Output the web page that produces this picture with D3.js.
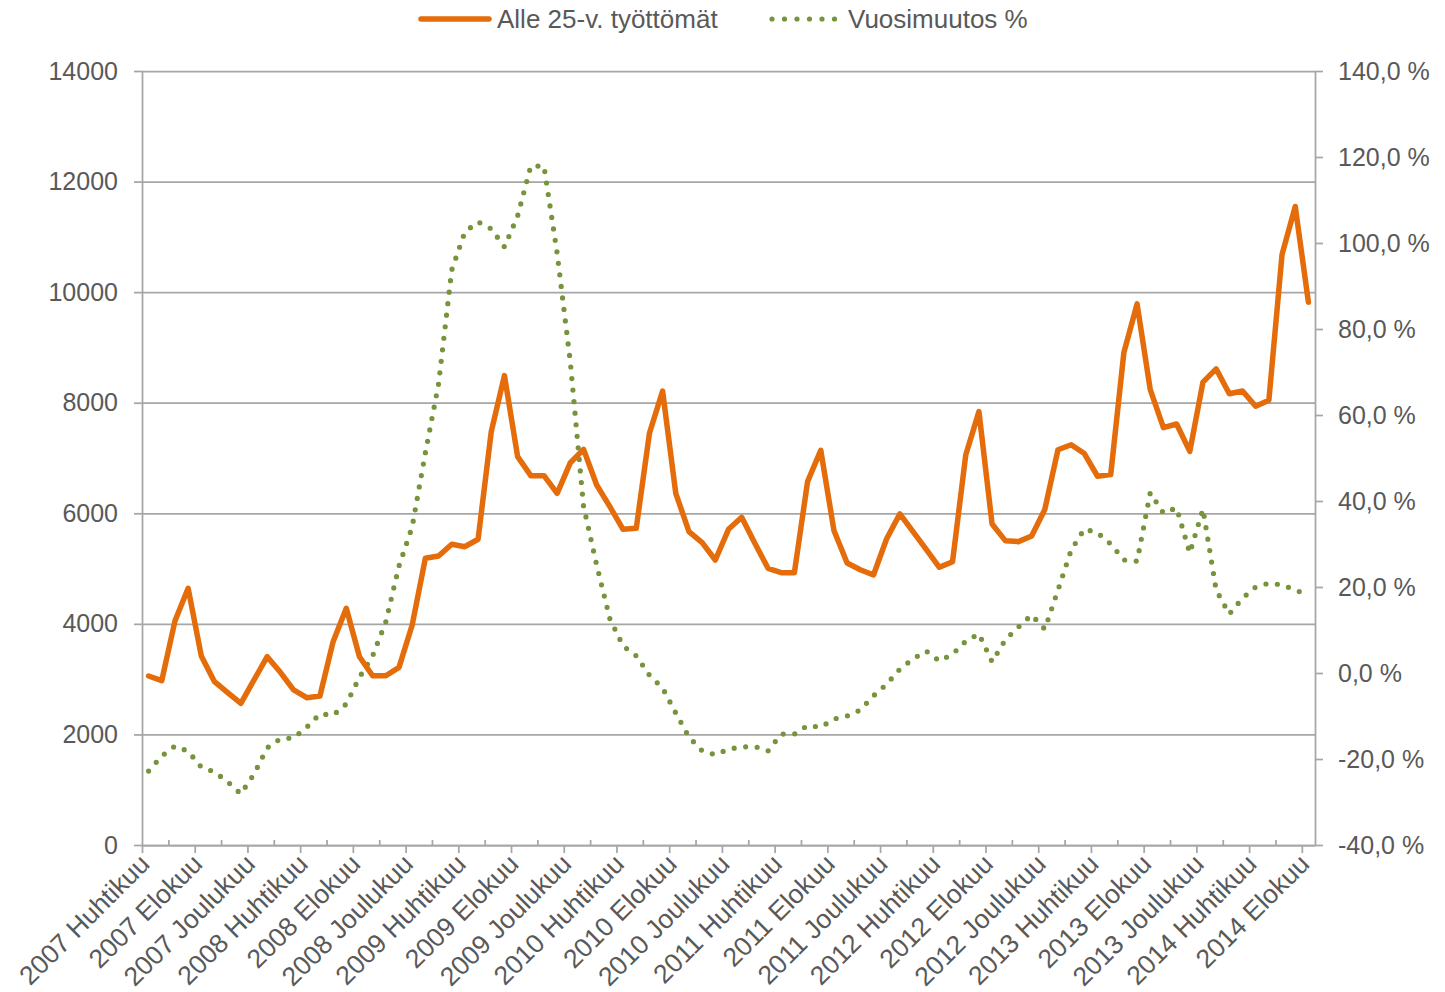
<!DOCTYPE html>
<html>
<head>
<meta charset="utf-8">
<script src="https://cdn.jsdelivr.net/npm/d3@7"></script>
<style>
  body { margin: 0; background: #fff; }
  .canvas text { font-family: 'Liberation Sans', Arial, sans-serif; fill: #595959; }
</style>
</head>
<body>
<div class="canvas"></div>
<script>
// x-axis labels, one every 4 months (Apr 2007 .. Aug 2014)
const tickLabels = [
  '2007 Huhtikuu', '2007 Elokuu', '2007 Joulukuu',
  '2008 Huhtikuu', '2008 Elokuu', '2008 Joulukuu',
  '2009 Huhtikuu', '2009 Elokuu', '2009 Joulukuu',
  '2010 Huhtikuu', '2010 Elokuu', '2010 Joulukuu',
  '2011 Huhtikuu', '2011 Elokuu', '2011 Joulukuu',
  '2012 Huhtikuu', '2012 Elokuu', '2012 Joulukuu',
  '2013 Huhtikuu', '2013 Elokuu', '2013 Joulukuu',
  '2014 Huhtikuu', '2014 Elokuu',
];
const labelEvery = 4;

// Alle 25-v. työttömät (left axis), monthly
const unemployed = [
  3057, 2972, 4052, 4643, 3419, 2954, 2755, 2563, 2985, 3406,
  3124, 2804, 2664, 2695, 3677, 4281, 3406, 3062, 3062, 3214,
  3979, 5186, 5227, 5439, 5396, 5530, 7476, 8490, 7024, 6680,
  6680, 6361, 6915, 7157, 6512, 6120, 5710, 5728, 7447, 8210,
  6361, 5670, 5468, 5155, 5710, 5927, 5457, 5005, 4925, 4925,
  6572, 7140, 5690, 5100, 4980, 4884, 5540, 5990, 5667, 5348,
  5023, 5125, 7054, 7838, 5806, 5505, 5487, 5589, 6070, 7150,
  7240, 7080, 6670, 6700, 8910, 9787, 8236, 7548, 7615, 7119,
  8373, 8612, 8163, 8212, 7937, 8044, 10680, 11550, 9818,
];

// Vuosimuutos % (right axis), monthly
const yearChange = [
  -22.8, -19.3, -17.0, -18.2, -21.9, -23.0, -25.3, -28.1, -23.5, -17.4,
  -15.3, -15.1, -12.6, -9.5, -9.8, -7.2, -1.0, 4.0, 11.9, 24.9,
  34.0, 51.2, 67.2, 93.7, 102.6, 104.9, 103.3, 99.1, 106.3, 117.9,
  117.9, 97.6, 72.3, 38.8, 25.1, 12.6, 6.3, 4.0, -0.5, -3.5,
  -9.3, -14.9, -18.1, -19.0, -17.7, -17.2, -17.1, -18.1, -14.2, -14.2,
  -12.2, -12.6, -10.7, -10.0, -8.6, -5.3, -2.6, 0.9, 3.3, 5.1,
  2.8, 4.4, 7.4, 9.1, 2.6, 7.7, 10.7, 13.5, 10.2, 19.3,
  28.6, 33.5, 32.6, 30.0, 26.3, 26.0, 41.9, 37.2, 38.4, 27.9,
  38.1, 19.3, 13.7, 17.4, 20.0, 20.9, 20.5, 19.3, 18.1,
];

const leftTicks = [0, 2000, 4000, 6000, 8000, 10000, 12000, 14000];
const rightTicks = [-40, -20, 0, 20, 40, 60, 80, 100, 120, 140];

const dims = {
  width: 1445,
  height: 992,
  left: 142,
  right: 1315,
  top: 71,
  bottom: 845,
  fontSize: '25px',
  labelSize: '26.5px',
};

const orange = '#e46c0a';
const green = '#77933c';
const gridColor = '#a6a6a6';

const svg = d3
  .select('.canvas')
  .append('svg')
  .attr('width', dims.width)
  .attr('height', dims.height);

// scales
const n = unemployed.length;
const x = d3.scaleBand().domain(d3.range(n)).range([dims.left, dims.right]).padding(0);
const xEdge = d3.scaleLinear().domain([0, n]).range([dims.left, dims.right]);
const cx = (i) => x(i) + x.bandwidth() / 2;

const yL = d3.scaleLinear().domain([0, 14000]).range([dims.bottom, dims.top]);
const yR = d3.scaleLinear().domain([-40, 140]).range([dims.bottom, dims.top]);

// gridlines
const grid = svg
  .append('g')
  .attr('transform', `translate(${dims.left}, 0)`)
  .call(d3.axisLeft(yL).tickValues(leftTicks).tickSize(-(dims.right - dims.left)).tickFormat(''));
grid.select('.domain').remove();
grid.selectAll('line').attr('stroke', gridColor).attr('stroke-width', 1.75);

// left axis
const yAxisL = svg
  .append('g')
  .attr('transform', `translate(${dims.left}, 0)`)
  .call(d3.axisLeft(yL).tickValues(leftTicks).tickSize(8).tickPadding(16).tickSizeOuter(0).tickFormat(d3.format('d')));

// right axis
const yAxisR = svg
  .append('g')
  .attr('transform', `translate(${dims.right}, 0)`)
  .call(
    d3
      .axisRight(yR)
      .tickValues(rightTicks)
      .tickSize(8)
      .tickPadding(15)
      .tickSizeOuter(0)
      .tickFormat((d) => d.toFixed(1).replace('.', ',') + ' %')
  );

// bottom axis: major ticks out, minor ticks in, labels every 4 months
const majorEdges = d3.range(0, n, labelEvery);
const minorEdges = d3.range(2, n, labelEvery);

const xMajor = svg
  .append('g')
  .attr('transform', `translate(0, ${dims.bottom})`)
  .call(d3.axisBottom(xEdge).tickValues(majorEdges).tickSize(8).tickSizeOuter(0).tickFormat(''));
const xMinor = svg
  .append('g')
  .attr('transform', `translate(0, ${dims.bottom})`)
  .call(d3.axisBottom(xEdge).tickValues(minorEdges).tickSize(-5).tickSizeOuter(0).tickFormat(''));
xMinor.select('.domain').remove();

[yAxisL, yAxisR, xMajor, xMinor].forEach((g) => {
  g.selectAll('line').attr('stroke', gridColor).attr('stroke-width', 1.75);
  g.select('.domain').attr('stroke', gridColor).attr('stroke-width', 1.75);
});
svg.selectAll('.tick text').attr('font-size', dims.fontSize).attr('fill', '#595959');

const xLabels = svg
  .append('g')
  .attr('transform', `translate(0, ${dims.bottom})`)
  .call(
    d3
      .axisBottom(x)
      .tickValues(d3.range(0, n, labelEvery))
      .tickSize(0)
      .tickFormat((i) => tickLabels[i / labelEvery])
  );
xLabels.select('.domain').remove();
xLabels
  .selectAll('text')
  .attr('font-size', dims.labelSize)
  .attr('fill', '#595959')
  .attr('text-anchor', 'end')
  .attr('y', 0)
  .attr('dy', '0.35em')
  .attr('transform', 'translate(-4, 14) rotate(-45)');

// lines
const lineL = d3.line().x((d, i) => cx(i)).y((d) => yL(d));
const lineR = d3.line().x((d, i) => cx(i)).y((d) => yR(d));

svg
  .append('path')
  .datum(yearChange)
  .attr('fill', 'none')
  .attr('stroke', green)
  .attr('stroke-width', 5.2)
  .attr('stroke-linecap', 'round')
  .attr('stroke-dasharray', '0 11.6')
  .attr('d', lineR);

svg
  .append('path')
  .datum(unemployed)
  .attr('fill', 'none')
  .attr('stroke', orange)
  .attr('stroke-width', 5.5)
  .attr('stroke-linejoin', 'round')
  .attr('stroke-linecap', 'round')
  .attr('d', lineL);

// legend
const legend = svg.append('g').attr('transform', 'translate(0, 19)');
legend
  .append('line')
  .attr('x1', 421).attr('x2', 489)
  .attr('stroke', orange).attr('stroke-width', 5.5).attr('stroke-linecap', 'round');
legend
  .append('text')
  .attr('x', 497).attr('dy', '0.35em')
  .attr('font-size', '26px')
  .text('Alle 25-v. työttömät');
legend
  .append('line')
  .attr('x1', 772).attr('x2', 835)
  .attr('stroke', green).attr('stroke-width', 5.2)
  .attr('stroke-linecap', 'round').attr('stroke-dasharray', '0 12.5');
legend
  .append('text')
  .attr('x', 848).attr('dy', '0.35em')
  .attr('font-size', '26px')
  .text('Vuosimuutos %');
</script>
</body>
</html>
